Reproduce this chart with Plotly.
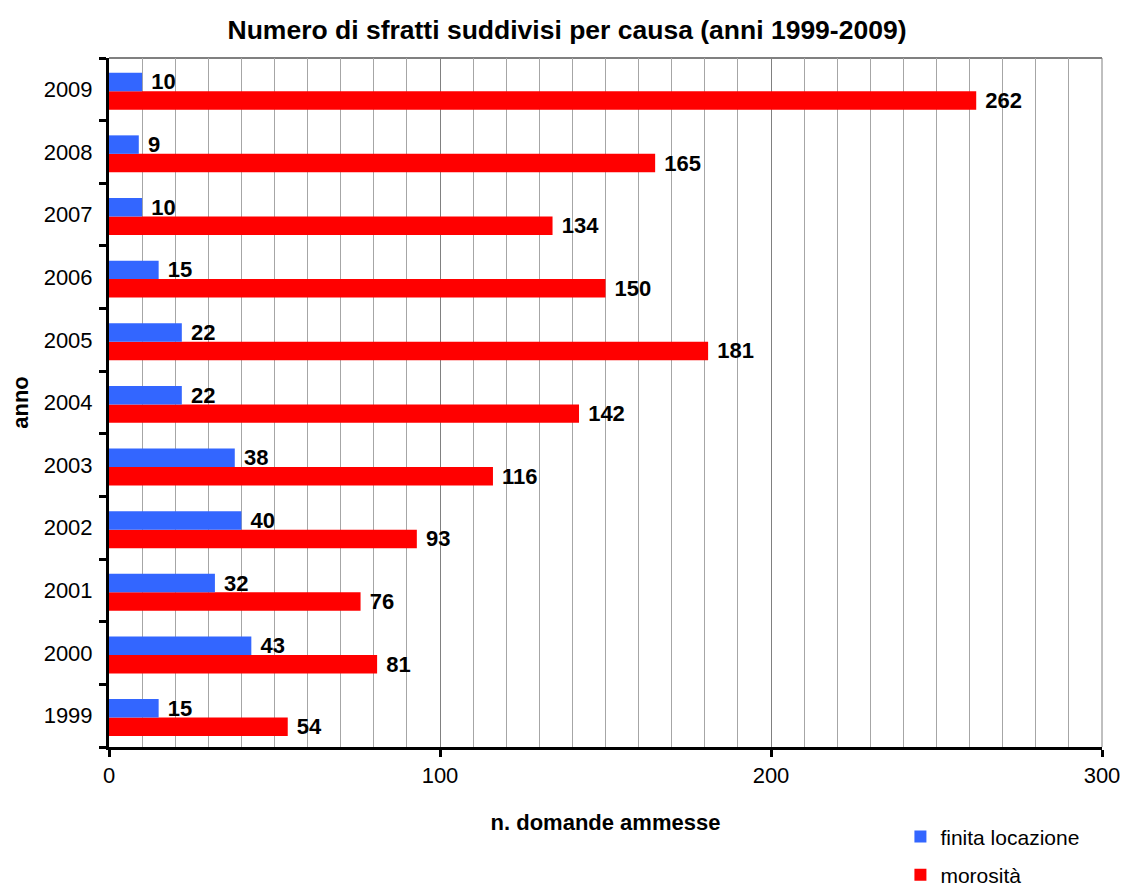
import plotly.graph_objects as go

years = ["1999", "2000", "2001", "2002", "2003", "2004", "2005", "2006", "2007", "2008", "2009"]
finita_locazione = [15, 43, 32, 40, 38, 22, 22, 15, 10, 9, 10]
morosita = [54, 81, 76, 93, 116, 142, 181, 150, 134, 165, 262]

FONT = "Liberation Sans, Arial, sans-serif"

fig = go.Figure()
fig.add_trace(go.Bar(
    y=years, x=morosita, orientation="h", name="morosità",
    marker=dict(color="#FF0000", line=dict(width=0)),
    width=0.295, offset=-0.325,
    text=morosita, texttemplate=" %{x}", textposition="outside",
    textfont=dict(family=FONT, size=22, color="black", weight="bold"),
    constraintext="none", cliponaxis=False, legendgroup="b", legendrank=2,
))
fig.add_trace(go.Bar(
    y=years, x=finita_locazione, orientation="h", name="finita locazione",
    marker=dict(color="#3366FF", line=dict(width=0)),
    width=0.295, offset=-0.03,
    text=finita_locazione, texttemplate=" %{x}", textposition="outside",
    textfont=dict(family=FONT, size=22, color="black", weight="bold"),
    constraintext="none", cliponaxis=False, legendgroup="a", legendrank=1,
))

fig.update_layout(
    width=1112, height=878,
    margin=dict(l=101, r=18, t=50, b=139, autoexpand=False),
    paper_bgcolor="white", plot_bgcolor="white",
    font=dict(family=FONT, size=22, color="black"),
    title=dict(text="<b>Numero di sfratti suddivisi per causa (anni 1999-2009)</b>",
               x=0.5027, xanchor="center", y=0.975, yanchor="middle",
               font=dict(family=FONT, size=26.5, color="black")),
    barmode="overlay",
    legend=dict(x=0.797, xanchor="left", y=-0.1006, yanchor="top",
                traceorder="grouped", tracegroupgap=8,
                font=dict(family=FONT, size=21, color="black"),
                bgcolor="rgba(0,0,0,0)", itemwidth=30),
    showlegend=True,
)

fig.update_xaxes(
    range=[0, 300], dtick=100, tick0=0, automargin=False,
    showgrid=True, gridcolor="#808080", gridwidth=1,
    minor=dict(dtick=10, showgrid=True, gridcolor="#A6A6A6", gridwidth=1),
    showline=True, linecolor="black", linewidth=3,
    ticks="outside", ticklen=7, tickwidth=3, tickcolor="black",
    ticklabelstandoff=0, ticklabeloverflow="allow",
    tickfont=dict(family=FONT, size=22, color="black"),
    zeroline=False,
    title=dict(text="<b>n. domande ammesse</b>", standoff=28,
               font=dict(family=FONT, size=22, color="black")),
)
fig.update_yaxes(
    type="category", categoryorder="array", categoryarray=years,
    showgrid=False, automargin=False,
    showline=True, linecolor="black", linewidth=3,
    ticks="outside", ticklen=7, tickwidth=3, tickcolor="black",
    tickson="boundaries", ticklabelstandoff=9,
    tickfont=dict(family=FONT, size=22, color="black"),
    title=dict(text="<b>anno</b>", standoff=14,
               font=dict(family=FONT, size=22, color="black")),
)

# gray plot-area border on top and right
fig.add_shape(type="line", xref="paper", yref="paper", x0=0, x1=1, y0=1, y1=1,
              line=dict(color="#808080", width=2), layer="below")
fig.add_shape(type="line", xref="paper", yref="paper", x0=1, x1=1, y0=0, y1=1,
              line=dict(color="#808080", width=1), layer="below")

fig.write_html("out.html")
